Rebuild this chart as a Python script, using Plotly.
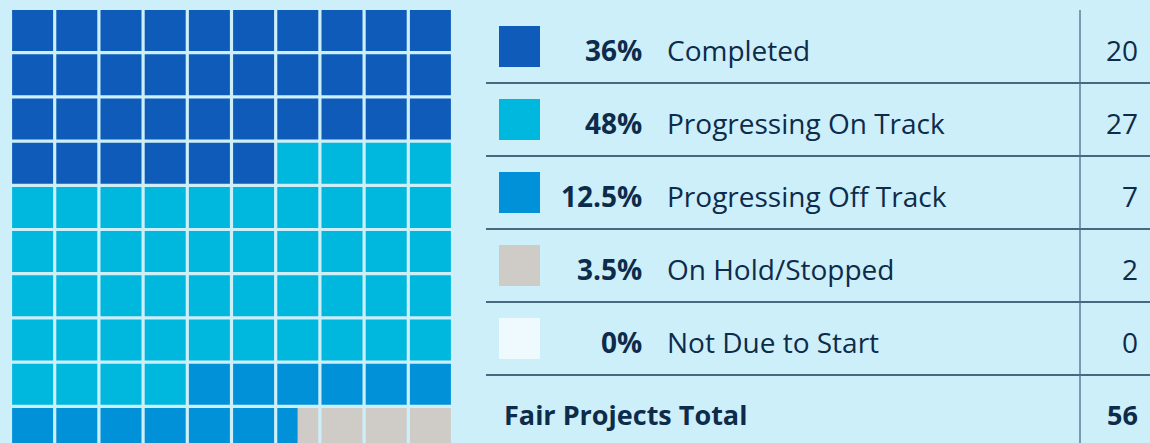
import plotly.graph_objects as go

# ---- data ----
categories = ["Completed", "Progressing On Track", "Progressing Off Track", "On Hold/Stopped", "Not Due to Start"]
percents = [36, 48, 12.5, 3.5, 0]
counts = [20, 27, 7, 2, 0]
total_label = "Fair Projects Total"
total_count = 56
colors = ["#0F5BBA", "#00B7DE", "#0091D9", "#CFCCC8", "#EEFAFD"]

BG = "#CDEFF9"
INK = "#0D2B4B"
W, H = 1150, 443
FONT = "Open Sans"
FS = 28

fig = go.Figure()

# ---- waffle (10 x 10 cells, row-major from top-left) ----
ncols = 10
gap = 3.2 / 44.2
start = 0.0
for cat, p, col in zip(categories, percents, colors):
    end = start + p
    xs, ys = [], []
    for j in range(100):
        lo, hi = max(j, start), min(j + 1, end)
        if hi <= lo:
            continue
        c, r = j % ncols, j // ncols
        f0, f1 = lo - j, hi - j
        x0 = c + gap / 2 if f0 == 0 else c + f0
        x1 = c + 1 - gap / 2 if f1 == 1 else c + f1
        y0, y1 = r + gap / 2, r + 1 - gap / 2
        xs += [x0, x1, x1, x0, x0, None]
        ys += [y0, y0, y1, y1, y0, None]
    start = end
    if xs:
        fig.add_trace(go.Scatter(x=xs, y=ys, fill="toself", fillcolor=col, mode="lines",
                                 line=dict(width=0, color=col), hoverinfo="skip",
                                 showlegend=False, xaxis="x", yaxis="y"))

# ---- table (x2 in pixels, y2 in row units) ----
rows = list(range(len(categories)))
fig.add_trace(go.Scatter(x=[519.5] * len(rows), y=[r + 0.5 for r in rows], mode="markers",
                         marker=dict(symbol="square", size=41, color=colors, line=dict(width=0)),
                         hoverinfo="skip", showlegend=False, xaxis="x2", yaxis="y2"))

YS = -3
ann = []
for r, (cat, p, n) in enumerate(zip(categories, percents, counts)):
    yc = r + 0.5
    ann.append(dict(x=644, y=yc, text=f"<b>{p:g}%</b>", xanchor="right", yanchor="middle", yshift=YS,
                    xref="x2", yref="y2", showarrow=False, font=dict(family=FONT, size=FS, color=INK)))
    ann.append(dict(x=665, y=yc, text=cat, xanchor="left", yanchor="middle", yshift=YS,
                    xref="x2", yref="y2", showarrow=False, font=dict(family=FONT, size=FS, color=INK)))
    ann.append(dict(x=1140, y=yc, text=str(n), xanchor="right", yanchor="middle", yshift=YS,
                    xref="x2", yref="y2", showarrow=False, font=dict(family=FONT, size=FS, color=INK)))
tr = len(categories) + 0.5
ann.append(dict(x=502, y=tr, text=f"<b>{total_label}</b>", xanchor="left", yanchor="middle", yshift=YS,
                xref="x2", yref="y2", showarrow=False, font=dict(family=FONT, size=FS - 1, color=INK)))
ann.append(dict(x=1140, y=tr, text=f"<b>{total_count}</b>", xanchor="right", yanchor="middle", yshift=YS,
                xref="x2", yref="y2", showarrow=False, font=dict(family=FONT, size=FS - 1, color=INK)))

shapes = []
for r in range(1, len(categories) + 1):
    shapes.append(dict(type="line", xref="x2", yref="y2", x0=486, x1=1150, y0=r, y1=r,
                       line=dict(color="#1E3A56", width=1.3)))
shapes.append(dict(type="line", xref="x2", yref="y2", x0=1080, x1=1080, y0=0, y1=7,
                   line=dict(color="#4C6C88", width=1.3)))

# axes: waffle pitch 44.2 px, grid origin at (10.5, 8.5) px
px = 44.2
ox, oy = 10.5, 8.5
rp = 73.0
oy2 = 10.0
fig.update_layout(
    width=W, height=H, margin=dict(l=0, r=0, t=0, b=0),
    paper_bgcolor=BG, plot_bgcolor="rgba(0,0,0,0)",
    xaxis=dict(domain=[0, 1], range=[-ox / px, (W - ox) / px], visible=False, fixedrange=True),
    yaxis=dict(domain=[0, 1], range=[(H - oy) / px, -oy / px], visible=False, fixedrange=True),
    xaxis2=dict(range=[0, W], visible=False, anchor="y2", overlaying="x", fixedrange=True),
    yaxis2=dict(range=[(H - oy2) / rp, -oy2 / rp], visible=False, anchor="x2", overlaying="y",
                fixedrange=True),
    annotations=ann, shapes=shapes, showlegend=False,
)

fig.write_html("out.html", config={"displayModeBar": False, "staticPlot": True},
               post_script="document.body.style.margin='0';document.body.style.overflow='hidden';")
